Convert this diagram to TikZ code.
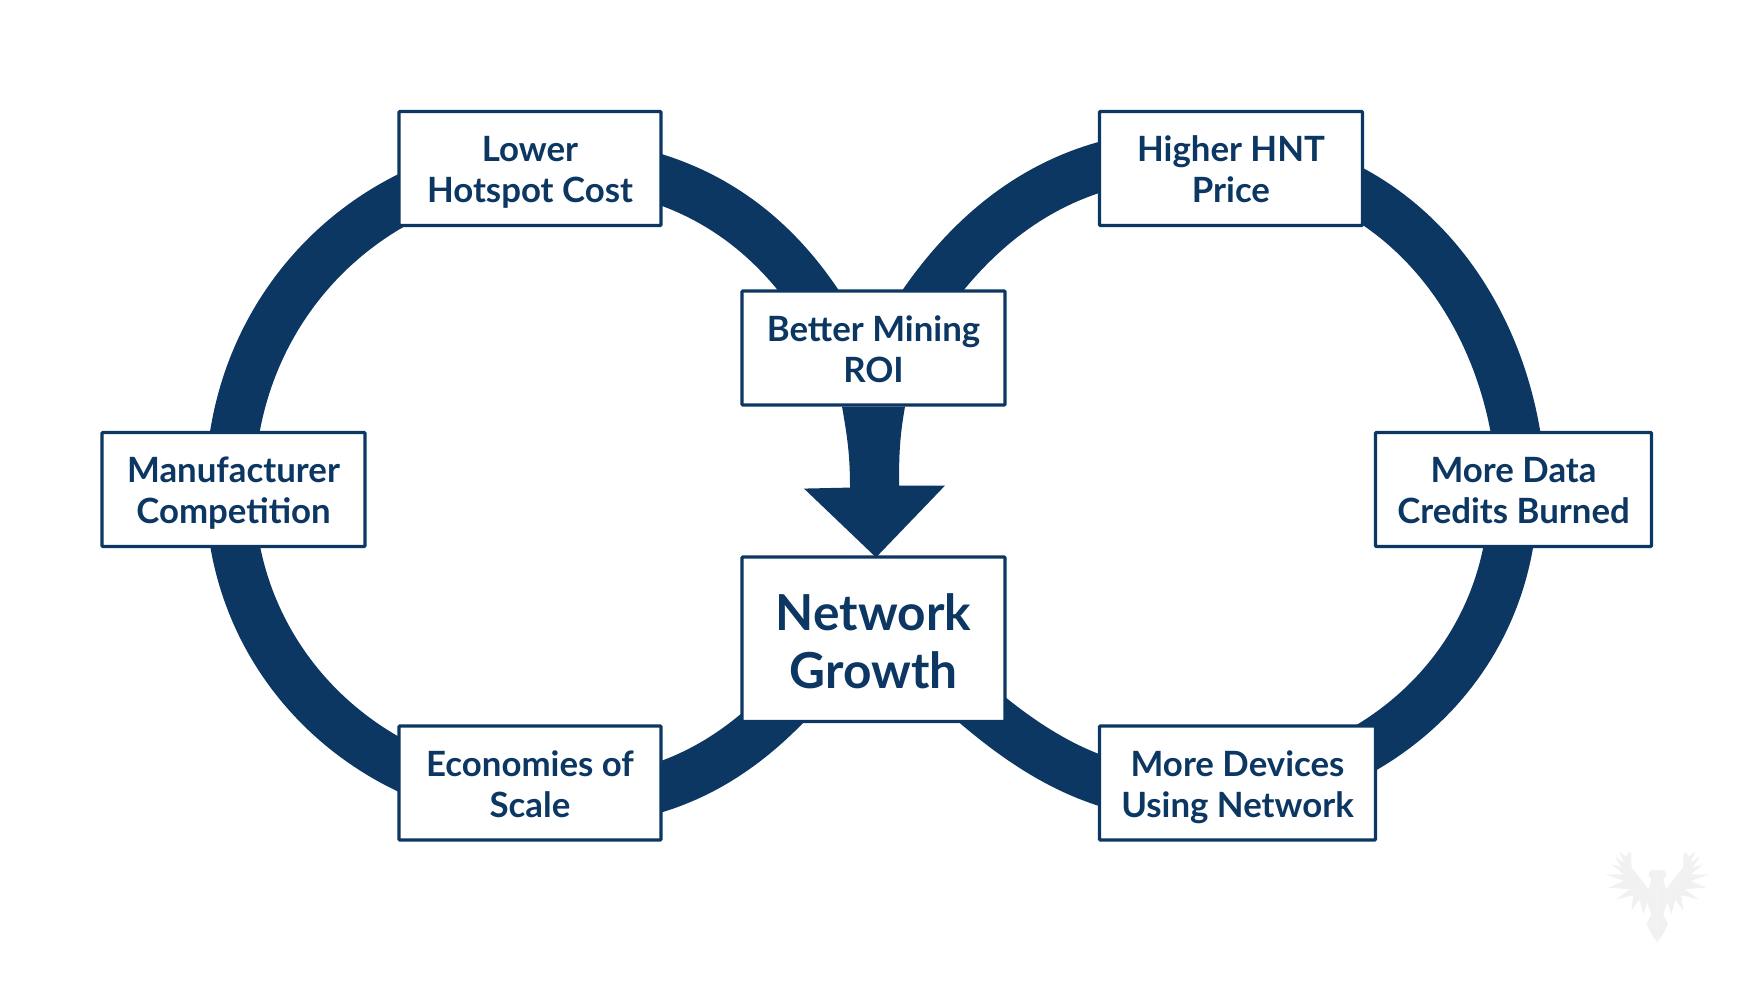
\documentclass[tikz,border=0pt]{standalone}
\usepackage{fontspec}
\setsansfont{Lato}
\usetikzlibrary{backgrounds}
\definecolor{ringBlue}{HTML}{0C3763}
\definecolor{markGray}{HTML}{F1F1F1}
\newcommand{\twoLines}[2]{\rule{0pt}{35.6pt}#1\\#2\rule[-8pt]{0pt}{8pt}}
\newcommand{\twoBigLines}[2]{\rule{0pt}{53pt}#1\\#2\rule[-12pt]{0pt}{12pt}}

\begin{document}
\begin{tikzpicture}[x = 1pt, y = 1pt, font=\sffamily\bfseries]
	\tikzstyle{boxStyle}=[shape = rectangle, draw = ringBlue, fill = white, line width = 3.2pt, text = ringBlue, align = center, rounded corners = 0.8pt, minimum height = 114pt, font = \sffamily\bfseries\fontsize{34.8}{41}\selectfont]
	\tikzstyle{bigBoxStyle}=[boxStyle, minimum height = 164.5pt, font = \sffamily\bfseries\fontsize{49.6}{58}\selectfont]
	\tikzstyle{ringStyle}=[draw = ringBlue, line width = 49pt]
	\useasboundingbox (0, 0) rectangle (1752, 984);
	\node[boxStyle, minimum width = 262pt] (lowerCost) at (530, 815.5) {\twoLines{Lower}{Hotspot Cost}};
	\node[boxStyle, minimum width = 263pt] (higherPrice) at (1231, 815.5) {\twoLines{Higher HNT}{Price}};
	\node[boxStyle, minimum width = 263pt] (betterRoi) at (873.5, 636) {\twoLines{Better Mining}{ROI}};
	\node[boxStyle, minimum width = 263pt] (manufacturer) at (233.5, 494.5) {\twoLines{Manufacturer}{Competition}};
	\node[boxStyle, minimum width = 276pt] (moreData) at (1513.5, 494.5) {\twoLines{More Data}{Credits Burned}};
	\node[bigBoxStyle, minimum width = 263pt] (networkGrowth) at (873.5, 344.75) {\twoBigLines{Network}{Growth}};
	\node[boxStyle, minimum width = 262pt] (economies) at (530, 201) {\twoLines{Economies of}{Scale}};
	\node[boxStyle, minimum width = 276pt] (moreDevices) at (1237.5, 201) {\twoLines{More Devices}{Using Network}};
	\begin{pgfonlayer}{background}
	% left ring
	\draw[ringStyle] ([shift = {(-40.5, 20.5)}]betterRoi.center) to[out = 120, in = 2] ([yshift = 6pt]lowerCost.center);
	\draw[ringStyle] ([yshift = 6pt]lowerCost.center) to[out = 185, in = 90] ([xshift = -3.5pt]manufacturer.center);
	\draw[ringStyle] ([xshift = -3.5pt]manufacturer.center) to[out = 270, in = 176] ([yshift = -18pt]economies.center);
	\draw[ringStyle] ([yshift = -18pt]economies.center) to[out = -4, in = 230] ([shift = {(-63.5, -39.5)}]networkGrowth.center);
	% right ring
	\draw[ringStyle] ([shift = {(36, 24)}]betterRoi.center) to[out = 58, in = 174] ([yshift = 12pt]higherPrice.center);
	\draw[ringStyle] ([yshift = 12pt]higherPrice.center) to[out = -3, in = 92] ([xshift = 8pt]moreData.center);
	\draw[ringStyle] (moreData.center) to[out = 270, in = 8] ([yshift = -9pt]moreDevices.center);
	\draw[ringStyle] ([yshift = -9pt]moreDevices.center) to[out = 188, in = -43] ([shift = {(73.5, -39.5)}]networkGrowth.center);
	% arrow
	\fill[ringBlue] ([xshift = -31.5pt]betterRoi.south) to[out = -80, in = 90] ([shift = {(-23.5, -81)}]betterRoi.south) -- ([shift = {(-69.5, -82)}]betterRoi.south) -- ([shift = {(2.5, -2)}]networkGrowth.north) -- ([shift = {(71.5, -79)}]betterRoi.south) -- ([shift = {(25.5, -79)}]betterRoi.south) to[out = 90, in = -100] ([xshift = 31.5pt]betterRoi.south) -- cycle;
	\end{pgfonlayer}
	% eagle mark
	\foreach \side in {-1, 1}
		\fill[markGray, shift = {(1657.3, 78.7)}, xscale = \side * 0.3333, yscale = 0.3333] (0, 106) -- (-22, 104) -- (-27, 91) -- (-18, 78) -- (-26, 48) -- (-52, 82) -- (-77, 113) -- (-79, 156) -- (-87, 158) -- (-94, 146) -- (-114, 161) -- (-100, 128) -- (-127, 146) -- (-107, 113) -- (-137, 123) -- (-100, 93) -- (-157, 93) -- (-100, 73) -- (-147, 53) -- (-82, 48) -- (-124, 18) -- (-72, 30) -- (-78, -17) -- (-54, 18) -- (-42, -27) -- (-30, 10) -- (-17, -32) -- (-7, -4) -- (-32, -57) -- (-17, -87) -- (0, -112) -- cycle;
\end{tikzpicture}
\end{document}
